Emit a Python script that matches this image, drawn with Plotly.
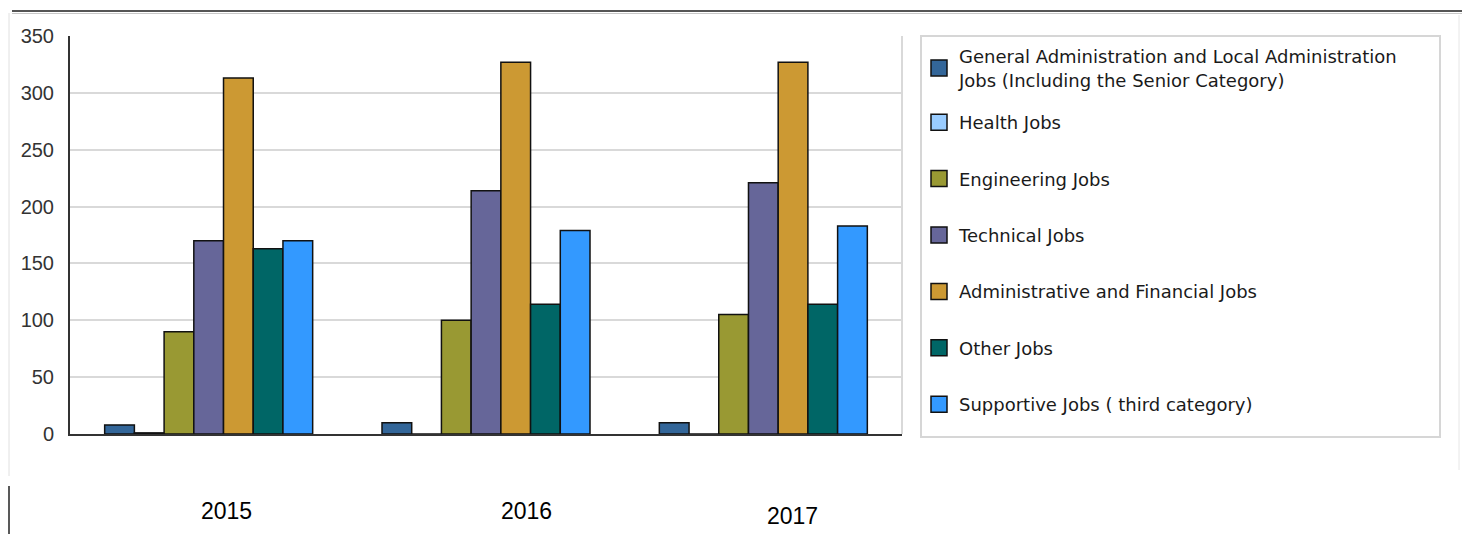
import plotly.graph_objects as go

years = ["2015", "2016", "2017"]
series_names = [
    "General Administration and Local Administration<br>Jobs (Including the Senior Category)",
    "Health Jobs",
    "Engineering Jobs",
    "Technical Jobs",
    "Administrative and Financial Jobs",
    "Other Jobs",
    "Supportive Jobs ( third category)",
]
general_admin = [8, 10, 10]
health = [1, 0, 0]
engineering = [90, 100, 105]
technical = [170, 214, 221]
admin_financial = [313, 327, 327]
other = [163, 114, 114]
supportive = [170, 179, 183]
series_values = [general_admin, health, engineering, technical, admin_financial, other, supportive]
colors = ["#336699", "#99ccff", "#999933", "#666699", "#cc9933", "#006666", "#3399ff"]
y_ticks = [0, 50, 100, 150, 200, 250, 300, 350]

# the page body adds an 8px margin; work in screen coords and subtract it
OFF = 8
W, H = 1470 - OFF, 534 - OFF
SL, SR, ST, SB = 70, 902, 36, 434  # plot area in screen pixels
L, R, T, B = SL - OFF, SR - OFF, ST - OFF, SB - OFF
pw, ph = R - L, B - T


def px(x):
    return (x - SL) / pw


def py(y):
    return (SB - y) / ph


def cx(x):
    return (x - OFF) / W


def cy(y):
    return 1 - (y - OFF) / H


fig = go.Figure()
for name, vals, col in zip(series_names, series_values, colors):
    fig.add_trace(go.Bar(
        x=years, y=vals, name=name,
        marker=dict(color=col, line=dict(color="#111111", width=1.5)),
        showlegend=False,
    ))
for i, (name, col) in enumerate(zip(series_names, colors)):
    fig.add_trace(go.Scatter(
        x=[None], y=[None], mode="markers", name=name, legendgroup=f"g{i}",
        legend="legend2" if i == 0 else "legend",
        marker=dict(symbol="square", size=16, color=col, line=dict(color="#111111", width=1.5)),
        showlegend=True,
    ))

annotations = []
label_pos = [(226, 511), (526, 511), (792, 516)]
for yr, (ax, ay) in zip(years, label_pos):
    annotations.append(dict(
        text=yr, x=px(ax), y=py(ay), xref="paper", yref="paper", showarrow=False,
        xanchor="center", yanchor="middle",
        font=dict(family="Liberation Sans, Arial", size=23, color="#000000"),
    ))

shapes = [
    dict(type="line", xref="paper", yref="paper", x0=1, x1=1, y0=0, y1=1,
         line=dict(color="#d9d9d9", width=2)),
    dict(type="rect", xref="paper", yref="paper", x0=px(921), x1=px(1440), y0=py(437), y1=py(36),
         line=dict(color="#d6d6d6", width=2), fillcolor="rgba(0,0,0,0)", layer="below"),
    dict(type="line", xref="paper", yref="paper", x0=px(12), x1=px(1470), y0=py(11), y1=py(11),
         line=dict(color="#555555", width=2)),
    dict(type="line", xref="paper", yref="paper", x0=px(12), x1=px(1470), y0=py(13.5), y1=py(13.5),
         line=dict(color="#c8c8c8", width=1)),
    dict(type="line", xref="paper", yref="paper", x0=px(1459), x1=px(1459), y0=py(470), y1=py(15),
         line=dict(color="#e6e6e6", width=1)),
    dict(type="line", xref="paper", yref="paper", x0=px(9), x1=px(9), y0=py(476), y1=py(13),
         line=dict(color="#e0e0e0", width=1)),
    dict(type="line", xref="paper", yref="paper", x0=px(9), x1=px(9), y0=py(534), y1=py(486),
         line=dict(color="#222222", width=1.5)),
]

legend_common = dict(
    xref="container", yref="container", xanchor="left", yanchor="top",
    bgcolor="rgba(0,0,0,0)", borderwidth=0,
    font=dict(family="DejaVu Sans", size=18, color="#1a1a1a"),
    traceorder="grouped", itemsizing="trace", valign="middle",
)

fig.update_layout(
    width=W, height=H,
    margin=dict(l=L, r=W - R, t=T, b=H - B, pad=0),
    paper_bgcolor="white", plot_bgcolor="white",
    barmode="group", bargap=0.25, bargroupgap=0,
    font=dict(family="Liberation Sans, Arial", color="#333333"),
    showlegend=True,
    legend=dict(x=cx(919), y=cy(104), tracegroupgap=30, maxheight=420, **legend_common),
    legend2=dict(x=cx(919), y=cy(38), tracegroupgap=0, maxheight=120, **legend_common),
    xaxis=dict(
        type="category", categoryorder="array", categoryarray=years,
        showticklabels=False, ticks="", showgrid=False, zeroline=False,
        showline=True, linecolor="#333333", linewidth=2, fixedrange=True,
    ),
    yaxis=dict(
        range=[0, 350], tickvals=y_ticks, ticktext=[str(v) for v in y_ticks],
        showgrid=True, gridcolor="#d9d9d9", gridwidth=2, zeroline=False,
        showline=True, linecolor="#333333", linewidth=2, ticks="",
        ticklabelstandoff=10,
        tickfont=dict(family="Liberation Sans, Arial", size=20, color="#333333"),
    ),
    annotations=annotations,
    shapes=shapes,
)

fig.write_html("out.html")
